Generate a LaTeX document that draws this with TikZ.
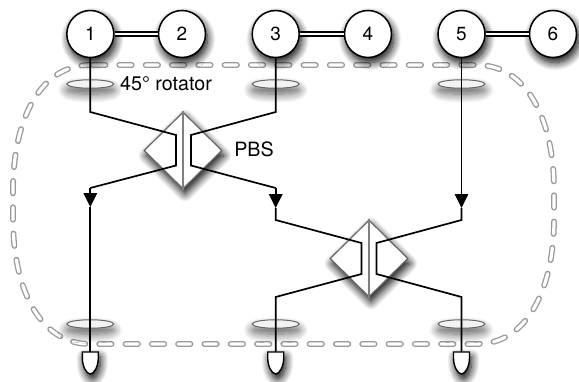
\documentclass[tikz,border=0pt]{standalone}
\usepackage{fontspec}
\setmainfont{TeX Gyre Heros}
\usetikzlibrary{arrows.meta,shapes.geometric,shadows.blur}
\tikzset{
  softshadow/.style={blur shadow={shadow xshift=2pt,shadow yshift=-5pt,shadow blur radius=8pt,shadow blur steps=12,shadow opacity=100}},
  qubit/.style={circle,draw=black,line width=1.5pt,fill=white,minimum size=47pt,inner sep=0pt,font=\fontsize{19}{21}\selectfont,softshadow},
  rotator/.style={ellipse,draw=black!60,line width=1pt,fill=white!95!black,minimum width=47pt,minimum height=8.5pt,inner sep=0pt,
    blur shadow={shadow xshift=0pt,shadow yshift=-6pt,shadow blur radius=9pt,shadow blur steps=12,shadow opacity=65}},
  pbsbox/.style={diamond,draw=black!60,line width=1.2pt,fill=white,minimum width=78pt,minimum height=77pt,inner sep=0pt,softshadow},
  beam/.style={draw=black,line width=1.7pt,line join=miter},
  beamtip/.style={beam,-{Triangle[length=14pt,width=13.5pt]}},
  pair/.style={line width=1.4pt,double=white,double distance=2.6pt},
  outline/.style={draw=black!40,line width=1.3pt,double=white,double distance=3.2pt,line cap=round,dash pattern=on 12.5pt off 13.8pt},
  detector/.style={draw=black,line width=1.4pt,fill=white,softshadow},
  lbl/.style={font=\fontsize{19.7}{22}\selectfont,inner sep=0pt}
}
\begin{document}
\begin{tikzpicture}[x=1pt,y=-1pt]
  \useasboundingbox (0,0) rectangle (579,381);

  % dashed outline
  \draw[outline] (93,65) -- (477,65) .. controls (527,65) and (554,120) .. (554,190)
    -- (554,219) .. controls (554,289) and (527,344) .. (477,344) -- (90,344)
    .. controls (40,344) and (13,289) .. (13,219) -- (13,190)
    .. controls (13,120) and (40,65) .. (90,65);

  % rotators
  \foreach \n/\x/\y in {1/90.3/84,2/275.7/84,3/461.5/84,4/90.3/324,5/275.7/324,6/461.5/324}
    \node[rotator] (rot\n) at (\x,\y) {};

  % beam splitters
  \node[pbsbox] (pbsa) at (183,150.5) {};
  \node[pbsbox] (pbsb) at (369,258.5) {};
  \draw[black!50,line width=1.5pt] (pbsa.north) -- (pbsa.south);
  \draw[black!50,line width=1.5pt] (pbsb.north) -- (pbsb.south);

  % bends
  \coordinate (a1) at (90.3,112);
  \coordinate (a2) at (176,135);
  \coordinate (a3) at (176,165.5);
  \coordinate (a4) at (90.3,188);
  \coordinate (a5) at (90.3,207);
  \coordinate (b1) at (275.7,112);
  \coordinate (b2) at (191,135);
  \coordinate (b3) at (191,165.5);
  \coordinate (b4) at (275.7,188);
  \coordinate (b5) at (275.7,208);
  \coordinate (b6) at (275.7,220);
  \coordinate (b7) at (361.5,243);
  \coordinate (b8) at (361.5,274);
  \coordinate (b9) at (275.7,297);
  \coordinate (c1) at (461.5,208);
  \coordinate (c2) at (461.5,220);
  \coordinate (c3) at (376.5,243);
  \coordinate (c4) at (376.5,274);
  \coordinate (c5) at (461.5,297);
  \coordinate (dta) at (90.3,352);
  \coordinate (dtb) at (275.7,352);
  \coordinate (dtc) at (461.5,352);

  % qubits
  \foreach \n/\x in {1/90.3,2/182,3/275.7,4/368,5/461.5,6/553}
    \node[qubit] (q\n) at (\x,34) {\n};
  \draw[pair] (q1) -- (q2);
  \draw[pair] (q3) -- (q4);
  \draw[pair] (q5) -- (q6);

  % beams
  \draw[beam] (q1.south) -- (a1) -- (a2) -- (a3) -- (a4);
  \draw[beamtip] (a4) -- (a5);
  \draw[beam] (a5) -- (dta);
  \draw[beam] (q3.south) -- (b1) -- (b2) -- (b3) -- (b4);
  \draw[beamtip] (b4) -- (b5);
  \draw[beam] (b5) -- (b6) -- (b7) -- (b8) -- (b9) -- (dtb);
  \draw[beamtip] (q5.south) -- (c1);
  \draw[beam] (c1) -- (c2) -- (c3) -- (c4) -- (c5) -- (dtc);

  % detectors
  \foreach \x in {90.3,275.7,461.5}
    \draw[detector] (\x-8,352) -- (\x+8,352) -- (\x+8,358)
      .. controls (\x+8,366) and (\x+4,374) .. (\x,374)
      .. controls (\x-4,374) and (\x-8,366) .. (\x-8,358) -- cycle;

  \node[lbl] (rotlabel) at (166,84) {45° rotator};
  \node[lbl] (pbslabel) at (254,149) {PBS};
\end{tikzpicture}
\end{document}
